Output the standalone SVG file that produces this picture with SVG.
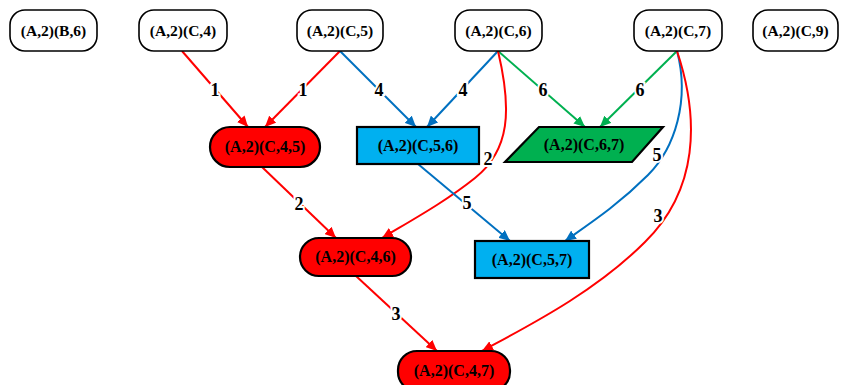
<svg xmlns="http://www.w3.org/2000/svg" width="841" height="385" viewBox="0 0 841 385">
<style>
.n{stroke:#000;stroke-width:1.6;fill:#fff}
.m{stroke:#000;stroke-width:2.2}
.t{font-family:"Liberation Serif",serif;font-weight:bold;font-size:15.5px;text-anchor:middle;fill:#000}
.t2{font-family:"Liberation Serif",serif;font-weight:bold;font-size:16px;text-anchor:middle;fill:#000}
.e{fill:none;stroke-width:2}
.r{stroke:#FF0000}
.b{stroke:#0070C0}
.g{stroke:#00B050}
.l{font-family:"Liberation Serif",serif;font-weight:bold;font-size:18px;text-anchor:middle;fill:#000;stroke:#fff;stroke-width:4;paint-order:stroke}
</style>
<defs>
<marker id="ar" markerUnits="userSpaceOnUse" markerWidth="12" markerHeight="10" refX="11" refY="5" orient="auto"><path d="M0,0 L11,5 L0,10 z" fill="#FF0000"/></marker>
<marker id="ab" markerUnits="userSpaceOnUse" markerWidth="12" markerHeight="10" refX="11" refY="5" orient="auto"><path d="M0,0 L11,5 L0,10 z" fill="#0070C0"/></marker>
<marker id="ag" markerUnits="userSpaceOnUse" markerWidth="12" markerHeight="10" refX="11" refY="5" orient="auto"><path d="M0,0 L11,5 L0,10 z" fill="#00B050"/></marker>
</defs>
<g id="connectors">
<path class="e r" d="M182,51 L248,127" marker-end="url(#ar)"/>
<path class="e r" d="M340,51 L265,127" marker-end="url(#ar)"/>
<path class="e b" d="M340,51 L416,127" marker-end="url(#ab)"/>
<path class="e b" d="M498,51 L427,127" marker-end="url(#ab)"/>
<path class="e g" d="M498,51 L585,127" marker-end="url(#ag)"/>
<path class="e g" d="M677,51 L600,127" marker-end="url(#ag)"/>
<path class="e r" d="M498,51 C512,110 510,150 475,178 C445,202 412,220 382,238" marker-end="url(#ar)"/>
<path class="e r" d="M262,167 L336,238" marker-end="url(#ar)"/>
<path class="e b" d="M418,164 L510,241" marker-end="url(#ab)"/>
<path class="e b" d="M677,51 C690,100 675,148 648,175 C618,205 592,222 565,241" marker-end="url(#ab)"/>
<path class="e r" d="M677,51 C700,120 698,190 645,242 C595,292 530,325 482,351" marker-end="url(#ar)"/>
<path class="e r" d="M356,276 L437,351" marker-end="url(#ar)"/>
<text class="l" x="215" y="96">1</text>
<text class="l" x="303" y="96">1</text>
<text class="l" x="379" y="96">4</text>
<text class="l" x="463" y="96">4</text>
<text class="l" x="543" y="96">6</text>
<text class="l" x="640" y="96">6</text>
<text class="l" x="488" y="165">2</text>
<text class="l" x="299" y="210">2</text>
<text class="l" x="467" y="209">5</text>
<text class="l" x="657" y="161">5</text>
<text class="l" x="658" y="222">3</text>
<text class="l" x="396" y="320">3</text>
</g>
<g id="n_B6"><rect class="n" x="10" y="10" width="87" height="41" rx="15"/><text class="t" x="53.5" y="36">(A,2)(B,6)</text></g>
<g id="n_C4"><rect class="n" x="139" y="10" width="88" height="41" rx="15"/><text class="t" x="183" y="36">(A,2)(C,4)</text></g>
<g id="n_C5"><rect class="n" x="297" y="10" width="86" height="41" rx="15"/><text class="t" x="340" y="36">(A,2)(C,5)</text></g>
<g id="n_C6"><rect class="n" x="455" y="10" width="87" height="41" rx="15"/><text class="t" x="498.5" y="36">(A,2)(C,6)</text></g>
<g id="n_C7"><rect class="n" x="634" y="10" width="88" height="41" rx="15"/><text class="t" x="678" y="36">(A,2)(C,7)</text></g>
<g id="n_C9"><rect class="n" x="753" y="10" width="85" height="41" rx="15"/><text class="t" x="795.5" y="36">(A,2)(C,9)</text></g>
<g id="n_C45"><rect class="m" fill="#FF0000" x="210" y="127" width="110" height="40" rx="20"/><text class="t2" x="265" y="152">(A,2)(C,4,5)</text></g>
<g id="n_C56"><rect class="m" fill="#00B0F0" x="357" y="127" width="122" height="37"/><text class="t2" x="418" y="151">(A,2)(C,5,6)</text></g>
<g id="n_C67"><polygon class="m" fill="#00B050" points="539,127 663,127 632,162 505,162"/><text class="t2" x="584" y="150">(A,2)(C,6,7)</text></g>
<g id="n_C46"><rect class="m" fill="#FF0000" x="300" y="238" width="111" height="38" rx="19"/><text class="t2" x="355.5" y="262">(A,2)(C,4,6)</text></g>
<g id="n_C57"><rect class="m" fill="#00B0F0" x="475" y="241" width="114" height="37"/><text class="t2" x="532" y="265">(A,2)(C,5,7)</text></g>
<g id="n_C47"><rect class="m" fill="#FF0000" x="398" y="351" width="112" height="40" rx="19"/><text class="t2" x="454" y="376">(A,2)(C,4,7)</text></g>
</svg>
